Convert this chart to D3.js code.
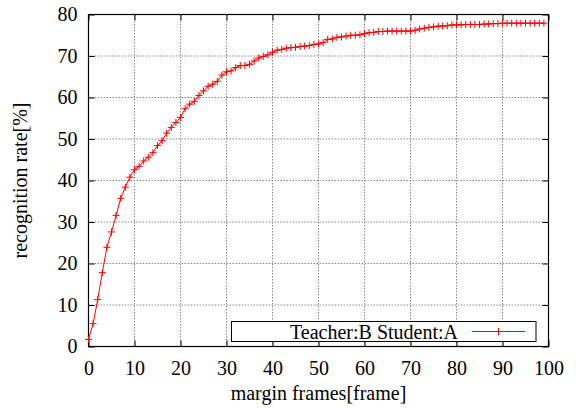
<!DOCTYPE html>
<html>
<head>
<meta charset="utf-8">
<script src="https://cdn.jsdelivr.net/npm/d3@7"></script>
<style>
  body { margin: 0; background: #fff; }
  svg { display: block; }
</style>
</head>
<body>
<script>
const frames = d3.range(0, 100)
const rates = [
  1.7, 5.5, 11.3, 17.8, 23.9, 27.6, 31.6, 35.7, 38.4, 40.8,
  42.6, 43.4, 44.7, 45.6, 46.7, 48.4, 49.6, 51.4, 52.8, 54.0,
  55.2, 57.3, 58.4, 59.1, 60.5, 61.6, 62.7, 63.2, 63.9, 65.4,
  66.2, 66.4, 67.2, 67.7, 67.7, 68.0, 68.8, 69.5, 69.9, 70.3,
  70.9, 71.4, 71.6, 71.9, 72.0, 72.1, 72.3, 72.4, 72.5, 72.8,
  72.9, 73.2, 74.0, 74.1, 74.5, 74.6, 74.8, 75.0, 75.0, 75.1,
  75.4, 75.6, 75.7, 75.9, 75.9, 76.0, 76.0, 76.0, 76.0, 76.0,
  76.0, 76.2, 76.5, 76.7, 76.9, 77.0, 77.2, 77.2, 77.3, 77.5,
  77.5, 77.5, 77.6, 77.6, 77.6, 77.6, 77.7, 77.7, 77.8, 77.8,
  77.9, 77.9, 77.9, 77.9, 77.9, 77.9, 77.9, 77.9, 77.9, 77.9
]
const xTicks = d3.range(0, 101, 10)
const yTicks = d3.range(0, 81, 10)
const seriesName = 'Teacher:B Student:A'
const xTitle = 'margin frames[frame]'
const yTitle = 'recognition rate[%]'

const width = 576
const height = 409
const margin = { left: 88.5, right: 27.5, top: 14.5, bottom: 62.5 }
const red = '#ff0000'
const font = "'Liberation Serif'"
const fontSize = '20px'

const svg = d3.select('body').append('svg')
  .attr('width', width)
  .attr('height', height)

const x = d3.scaleLinear().domain([0, 100]).range([margin.left, width - margin.right])
const y = d3.scaleLinear().domain([0, 80]).range([height - margin.bottom, margin.top])

const setFont = sel => sel.style('font-family', font).style('font-size', fontSize).attr('fill', '#000')

// grid
svg.append('g')
  .selectAll('line.gx')
  .data(xTicks.slice(1, -1))
  .enter()
  .append('line')
  .attr('x1', d => x(d)).attr('x2', d => x(d))
  .attr('y1', y(0)).attr('y2', y(80))
  .attr('stroke', '#888').attr('stroke-dasharray', '1.5,1.5')

svg.append('g')
  .selectAll('line.gy')
  .data(yTicks.slice(1, -1))
  .enter()
  .append('line')
  .attr('x1', x(0)).attr('x2', x(100))
  .attr('y1', d => y(d)).attr('y2', d => y(d))
  .attr('stroke', '#888').attr('stroke-dasharray', '1.5,1.5')

// axes, ticks inside, mirrored
const tickLen = 6
const axisStyle = g => {
  g.attr('font-family', null).attr('font-size', null)
  g.select('.domain').remove()
  g.selectAll('.tick line').attr('stroke', '#000')
  g.selectAll('.tick text').call(setFont)
}

svg.append('g')
  .attr('transform', `translate(0,${y(0)})`)
  .call(d3.axisBottom(x).tickValues(xTicks).tickSizeInner(-tickLen).tickSizeOuter(0))
  .call(axisStyle)
  .selectAll('.tick text').attr('y', 28.5).attr('dy', null)

svg.append('g')
  .attr('transform', `translate(0,${y(80)})`)
  .call(d3.axisTop(x).tickValues(xTicks).tickSizeInner(-tickLen).tickSizeOuter(0).tickFormat(''))
  .call(axisStyle)

svg.append('g')
  .attr('transform', `translate(${x(0)},0)`)
  .call(d3.axisLeft(y).tickValues(yTicks).tickSizeInner(-tickLen).tickSizeOuter(0))
  .call(axisStyle)
  .selectAll('.tick text').attr('x', -11)

svg.append('g')
  .attr('transform', `translate(${x(100)},0)`)
  .call(d3.axisRight(y).tickValues(yTicks).tickSizeInner(-tickLen).tickSizeOuter(0).tickFormat(''))
  .call(axisStyle)

// border
svg.append('rect')
  .attr('x', x(0)).attr('y', y(80))
  .attr('width', x(100) - x(0)).attr('height', y(0) - y(80))
  .attr('fill', 'none').attr('stroke', '#000').attr('stroke-width', 1.2)

// series
const line = d3.line().x(d => x(d[0])).y(d => y(d[1]))
const pts = frames.map((f, i) => [f, rates[i]])

svg.append('path')
  .attr('d', line(pts))
  .attr('fill', 'none')
  .attr('stroke', red)
  .attr('stroke-width', 1)

const ms = 3.5
svg.append('g')
  .selectAll('path.pt')
  .data(pts)
  .enter()
  .append('path')
  .attr('d', d => `M${x(d[0]) - ms},${y(d[1])}h${2 * ms}M${x(d[0])},${y(d[1]) - ms}v${2 * ms}`)
  .attr('stroke', red)
  .attr('stroke-width', 1)

// legend
const lg = svg.append('g')
lg.append('rect')
  .attr('x', 231.5).attr('y', 321.5)
  .attr('width', 304.5).attr('height', 20)
  .attr('fill', '#fff').attr('stroke', '#000').attr('stroke-width', 1)
lg.append('text')
  .attr('x', 458).attr('y', 338.5)
  .attr('text-anchor', 'end')
  .call(setFont)
  .text(seriesName)
lg.append('line')
  .attr('x1', 472).attr('x2', 525).attr('y1', 331.5).attr('y2', 331.5)
  .attr('stroke', red)
lg.append('path')
  .attr('d', `M${498.5 - ms},331.5h${2 * ms}M498.5,${331.5 - ms}v${2 * ms}`)
  .attr('stroke', red)

// titles
svg.append('text')
  .attr('x', (x(0) + x(100)) / 2).attr('y', 400)
  .attr('text-anchor', 'middle')
  .call(setFont)
  .text(xTitle)

svg.append('text')
  .attr('transform', `translate(27,${(y(0) + y(80)) / 2}) rotate(-90)`)
  .attr('text-anchor', 'middle')
  .call(setFont)
  .text(yTitle)
</script>
</body>
</html>
